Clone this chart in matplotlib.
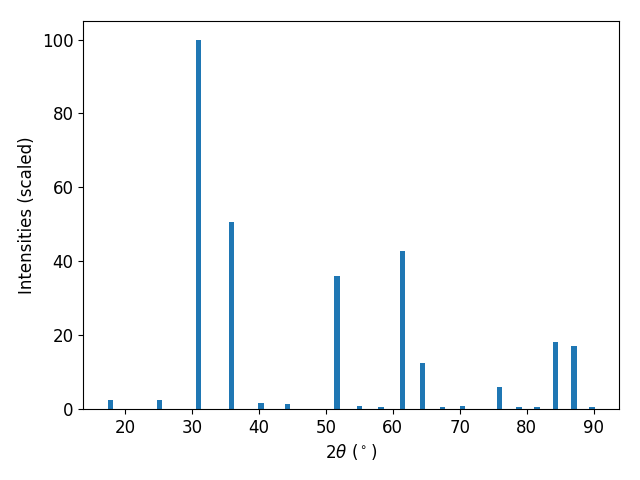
import matplotlib
matplotlib.use("Agg")
from matplotlib import pyplot as plt

# peak positions (2theta, degrees) and scaled intensities
two_theta = [17.76, 25.16, 30.99, 35.93, 40.27, 44.30, 51.66, 55.05, 58.24,
             61.43, 64.47, 67.46, 70.40, 75.98, 78.83, 81.52, 84.27, 87.05, 89.74]
intensity = [2.5, 2.5, 100.0, 50.5, 1.7, 1.4, 36.0, 0.9, 0.6,
             42.7, 12.5, 0.6, 0.9, 6.0, 0.6, 0.6, 18.0, 17.0, 0.6]

plt.rcParams['font.size'] = 12

fig, ax = plt.subplots(figsize=(6.4, 4.8), dpi=100)
ax.bar(two_theta, intensity, width=0.8, color='#1f77b4')
ax.set_xlabel(r'2$\theta$ ($^\circ$)')
ax.set_ylabel('Intensities (scaled)')
fig.subplots_adjust(left=0.130, right=0.967, top=0.956, bottom=0.148)
plt.savefig('out.png')
